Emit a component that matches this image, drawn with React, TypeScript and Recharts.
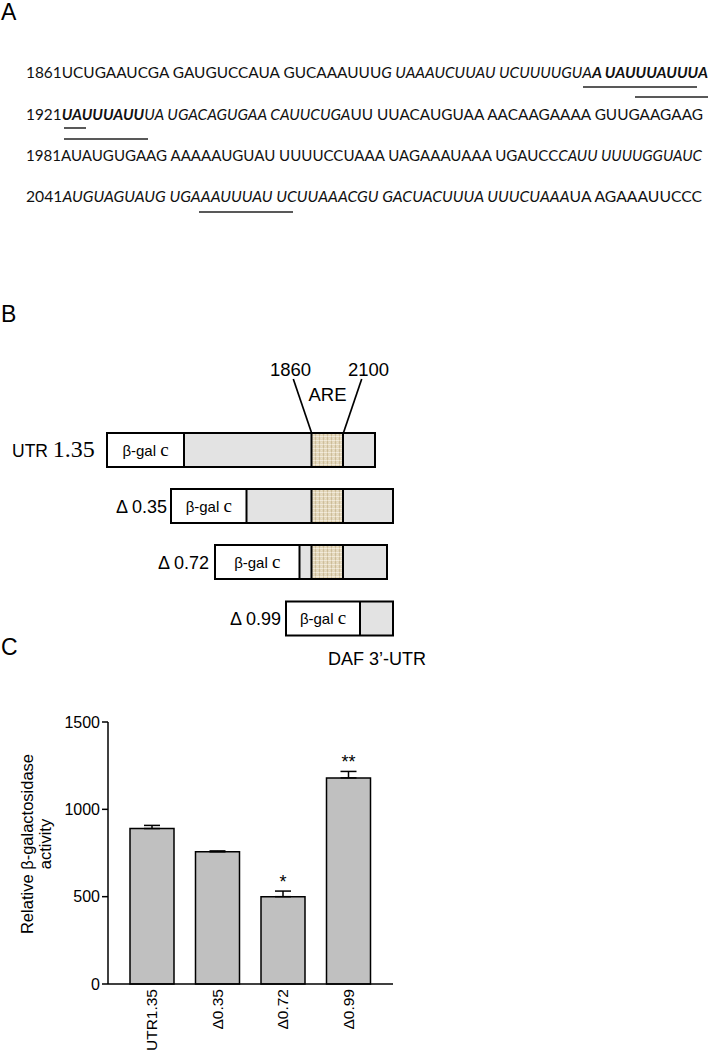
import React from 'react';
import { BarChart, Bar, XAxis, YAxis, ErrorBar, LabelList } from 'recharts';

// ---------- Panel C data ----------
const categories = ['UTR1.35', 'Δ0.35', 'Δ0.72', 'Δ0.99'];
const activity = [890, 757, 500, 1180];
const sem = [18, 5, 32, 37];
const significance = ['', '', '*', '**'];
const yTicks = [0, 500, 1000, 1500];

const data = categories.map((name, i) => ({
  name,
  value: activity[i],
  err: [0, sem[i]],
  sig: significance[i],
}));

// ---------- Panel A sequence ----------
type Part = [string, string];
const seqLine1: Part[] = [['n', '1861UCUGAAUCGA GAUGUCCAUA GUCAAAUUU'], ['i', 'G UAAAUCUUAU UCUUUUGUA'], ['bi', 'A UAUUUAUUUA']];
const seqLine2: Part[] = [['n', '1921'], ['bi', 'UAUUUAUU'], ['i', 'UA UGACAGUGAA CAUUCUGA'], ['n', 'UU UUACAUGUAA AACAAGAAAA GUUGAAGAAG']];
const seqLine3: Part[] = [['n', '1981AUAUGUGAAG AAAAAUGUAU UUUUCCUAAA UAGAAAUAAA UGAUCC'], ['i', 'CAUU UUUUGGUAUC']];
const seqLine4: Part[] = [['n', '2041'], ['i', 'AUGUAGUAUG UGAAAUUUAU UCUUAAACGU GACUACUUUA UUUCUAAA'], ['n', 'UA AGAAAUUCCC']];
const seqLines = [seqLine1, seqLine2, seqLine3, seqLine4];

// ---------- Panel B constructs ----------
const constructLabels = ['UTR', 'Δ 0.35', 'Δ 0.72', 'Δ 0.99'];

const ARIAL = '"Liberation Sans", Arial, Helvetica, sans-serif';
const TIMES = '"Liberation Serif", "Times New Roman", serif';
const CAL = 'Lato, "Open Sans", "Noto Sans", sans-serif';

const seqLayout = [
  { y: 78, len: 682 },
  { y: 119.5, len: 677 },
  { y: 161, len: 676 },
  { y: 202, len: 676 },
];

const rowGeom = [
  { top: 433, x0: 107, gal: 184, are: [311.5, 343], x1: 375, lx: 12 },
  { top: 489, x0: 171, gal: 246.5, are: [311.5, 343], x1: 393, lx: 167 },
  { top: 545, x0: 215, gal: 299.5, are: [311.5, 343], x1: 387, lx: 209 },
  { top: 601.5, x0: 286, gal: 360, are: null as number[] | null, x1: 393, lx: 281 },
];
const ROW_H = 34;

const XTick = (props: any) => {
  const { x, y, payload } = props;
  return (
    <text
      x={x}
      y={y}
      transform={`rotate(-90, ${x}, ${y})`}
      textAnchor="end"
      dy="0.36em"
      fontSize={15.5}
      fontFamily={ARIAL}
      fill="#000"
    >
      {payload.value}
    </text>
  );
};

const SigLabel = (props: any) => {
  const { x, y, width, height, index, value } = props;
  if (!value) return null;
  const v = activity[index];
  const e = sem[index];
  const top = y - (e * height) / v;
  return (
    <text x={x + width / 2} y={top - 3} textAnchor="middle" fontSize={18} fontFamily={ARIAL} fill="#000">
      {value}
    </text>
  );
};

const Overlay = () => (
  <svg
    width={710}
    height={1050}
    style={{ position: 'absolute', left: 0, top: 0, pointerEvents: 'none' }}
  >
    <defs>
      <pattern id="burlap" width="4" height="4" patternUnits="userSpaceOnUse">
        <rect width="4" height="4" fill="#e2d6ba" />
        <rect x="0" y="0" width="3" height="1" fill="#f1eadb" />
        <rect x="3" y="1" width="1" height="3" fill="#cdbd9a" />
        <rect x="1" y="2" width="1" height="1" fill="#ebe1cb" />
      </pattern>
    </defs>

    {/* Panel letters */}
    <text x={1} y={20} fontSize={23} fontFamily={ARIAL} fill="#000">A</text>
    <text x={1} y={322} fontSize={23} fontFamily={ARIAL} fill="#000">B</text>
    <text x={1} y={655} fontSize={23} fontFamily={ARIAL} fill="#000">C</text>

    {/* Panel A sequence */}
    {seqLines.map((parts, li) => (
      <text
        key={li}
        x={26}
        y={seqLayout[li].y}
        fontSize={15.5}
        fontFamily={CAL}
        fill="#111"
        textLength={seqLayout[li].len}
        lengthAdjust="spacingAndGlyphs"
        style={{ whiteSpace: 'pre' }}
      >
        {parts.map(([s, t], pi) => (
          <tspan
            key={pi}
            fontStyle={s.includes('i') ? 'italic' : 'normal'}
            fontWeight={s.includes('b') ? 700 : 400}
          >
            {t}
          </tspan>
        ))}
      </text>
    ))}
    {/* underlines */}
    <g stroke="#222" strokeWidth={1.5}>
      <line x1={583} y1={87} x2={697} y2={87} />
      <line x1={635} y1={97} x2={708} y2={97} />
      <line x1={64} y1={128} x2={86} y2={128} />
      <line x1={64} y1={139} x2={148} y2={139} />
      <line x1={199} y1={212} x2={293} y2={212} />
    </g>

    {/* Panel B */}
    <text x={270} y={376} fontSize={18.5} fontFamily={ARIAL} fill="#000">1860</text>
    <text x={348} y={376} fontSize={18.5} fontFamily={ARIAL} fill="#000">2100</text>
    <text x={327.5} y={400.5} fontSize={18.5} fontFamily={ARIAL} fill="#000" textAnchor="middle">ARE</text>
    <line x1={293.3} y1={379} x2={311.7} y2={433.3} stroke="#000" strokeWidth={1.7} />
    <line x1={361.7} y1={379} x2={343.3} y2={433.3} stroke="#000" strokeWidth={1.7} />

    {rowGeom.map((r, i) => {
      const cy = r.top + ROW_H / 2;
      return (
        <g key={i}>
          <rect x={r.x0} y={r.top} width={r.x1 - r.x0} height={ROW_H} fill="#e3e3e3" />
          <rect x={r.x0} y={r.top} width={r.gal - r.x0} height={ROW_H} fill="#fff" />
          {r.are && (
            <rect x={r.are[0]} y={r.top} width={r.are[1] - r.are[0]} height={ROW_H} fill="url(#burlap)" />
          )}
          <line x1={r.gal} y1={r.top} x2={r.gal} y2={r.top + ROW_H} stroke="#000" strokeWidth={2} />
          {r.are && (
            <>
              <line x1={r.are[0]} y1={r.top} x2={r.are[0]} y2={r.top + ROW_H} stroke="#000" strokeWidth={2} />
              <line x1={r.are[1]} y1={r.top} x2={r.are[1]} y2={r.top + ROW_H} stroke="#000" strokeWidth={2} />
            </>
          )}
          <rect x={r.x0} y={r.top} width={r.x1 - r.x0} height={ROW_H} fill="none" stroke="#000" strokeWidth={2} />
          <text
            x={(r.x0 + r.gal) / 2}
            y={cy + 5.5}
            textAnchor="middle"
            fontSize={15}
            fontFamily={ARIAL}
            fill="#000"
            style={{ whiteSpace: 'pre' }}
          >
            <tspan>β-gal </tspan>
            <tspan fontFamily={TIMES} fontSize={19}>c</tspan>
          </text>
          {i === 0 ? (
            <text x={r.lx} y={cy + 7} fontSize={17.5} fontFamily={ARIAL} fill="#000" style={{ whiteSpace: 'pre' }}>
              <tspan>{constructLabels[i]} </tspan>
              <tspan fontFamily={TIMES} fontSize={24}>1.35</tspan>
            </text>
          ) : (
            <text x={r.lx} y={cy + 6.5} fontSize={18} fontFamily={ARIAL} fill="#000" textAnchor="end">
              {constructLabels[i]}
            </text>
          )}
        </g>
      );
    })}
    <text x={328} y={665} fontSize={18} fontFamily={ARIAL} fill="#000">DAF 3’-UTR</text>

    {/* Panel C y-axis label */}
    <text
      x={33}
      y={844}
      transform="rotate(-90, 33, 844)"
      textAnchor="middle"
      fontSize={16.5}
      fontFamily={ARIAL}
      fill="#000"
    >
      Relative β-galactosidase
    </text>
    <text
      x={50.5}
      y={844}
      transform="rotate(-90, 50.5, 844)"
      textAnchor="middle"
      fontSize={16.5}
      fontFamily={ARIAL}
      fill="#000"
    >
      activity
    </text>
  </svg>
);

export default function App() {
  return (
    <div style={{ position: 'absolute', left: 0, top: 0, width: 710, height: 1050, background: '#fff', overflow: 'hidden' }}>
      <div style={{ position: 'absolute', left: 0, top: 690 }}>
        <BarChart
          width={710}
          height={360}
          data={data}
          margin={{ top: 32, right: 317, bottom: 6, left: 48 }}
        >
          <XAxis
            dataKey="name"
            tickLine={false}
            axisLine={{ stroke: '#000', strokeWidth: 1.5 }}
            tickSize={0}
            tickMargin={5}
            height={60}
            interval={0}
            padding={{ left: 11, right: 12 }}
            tick={<XTick />}
          />
          <YAxis
            width={60}
            domain={[0, 1500]}
            ticks={yTicks}
            interval={0}
            tickSize={6}
            tickMargin={2}
            axisLine={{ stroke: '#000', strokeWidth: 1.5 }}
            tickLine={{ stroke: '#000', strokeWidth: 1.5 }}
            tick={{ fontSize: 16, fontFamily: ARIAL, fill: '#000' }}
          />
          <Bar
            dataKey="value"
            fill="#c0c0c0"
            stroke="#000"
            strokeWidth={1.5}
            barSize={44}
            isAnimationActive={false}
          >
            <ErrorBar dataKey="err" width={8} stroke="#000" strokeWidth={1.5} direction="y" />
            <LabelList dataKey="sig" content={<SigLabel />} />
          </Bar>
        </BarChart>
      </div>
      <Overlay />
    </div>
  );
}
